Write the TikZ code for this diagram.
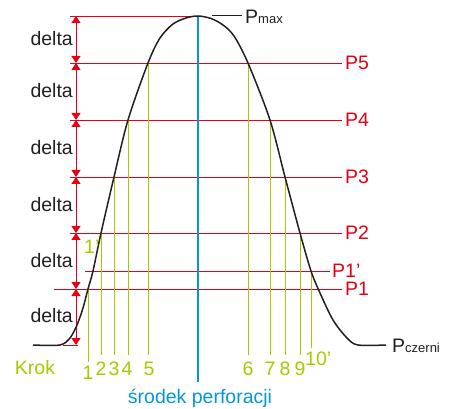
\documentclass[tikz,border=0pt]{standalone}
\usepackage{fontspec}
\setmainfont{Liberation Sans}
\usetikzlibrary{arrows.meta}
\definecolor{pred}{RGB}{230,0,18}
\definecolor{pgreen}{RGB}{170,200,0}
\definecolor{pblue}{RGB}{0,152,216}
\definecolor{pdark}{RGB}{35,31,32}
\begin{document}
\begin{tikzpicture}[x=1pt,y=-1pt,
  lbl/.style={font=\fontsize{19.5}{22}\selectfont, inner sep=0pt},
  redline/.style={draw=pred, line width=0.9pt},
  greenline/.style={draw=pgreen, line width=0.9pt},
  deltaarrow/.style={draw=pred, line width=0.9pt, {Triangle[width=9pt,length=7pt]}-{Triangle[width=9pt,length=7pt]}},
  curve/.style={draw=pdark, line width=1.5pt},
]
\useasboundingbox (0,0) rectangle (453,409);

% levels
\coordinate (L0) at (76,16);
\coordinate (L5) at (76,63);
\coordinate (L4) at (76,120);
\coordinate (L3) at (76,177);
\coordinate (L2) at (76,233);
\coordinate (L1) at (76,289);
\coordinate (Lb) at (76,345);

% red horizontal lines
\draw[redline] (70,16) -- (197,16);
\draw[redline] (70,63) -- (342,63);
\draw[redline] (70,120) -- (342,120);
\draw[redline] (70,177) -- (342,177);
\draw[redline] (70,233) -- (342,233);
\draw[redline] (85,271) -- (330,271);
\draw[redline] (54,289) -- (342,289);
\draw[redline] (63,345) -- (78,345);

% delta arrows
\draw[deltaarrow] (L0) -- (L5);
\draw[deltaarrow] (L5) -- (L4);
\draw[deltaarrow] (L4) -- (L3);
\draw[deltaarrow] (L3) -- (L2);
\draw[deltaarrow] (L2) -- (L1);
\draw[deltaarrow] (L1) -- (Lb);

% delta labels
\foreach \y/\n in {39/d1, 91/d2, 148/d3, 205/d4, 261/d5, 316/d6}
  \node[lbl, text=pdark, anchor=east] (\n) at (73,\y) {delta};

% intersection coordinates
\coordinate (c1) at (88,289);
\coordinate (c2) at (101,233);
\coordinate (c3) at (114,177);
\coordinate (c4) at (128,120);
\coordinate (c5) at (148,63);
\coordinate (c6) at (248,63);
\coordinate (c7) at (270,120);
\coordinate (c8) at (285,177);
\coordinate (c9) at (300,233);
\coordinate (c10) at (311,271);

% green vertical lines
\draw[greenline] (c1) -- (88,362);
\foreach \i/\x in {2/101,3/114,4/128,5/148,6/248,7/270,8/285,9/300}
  \draw[greenline] (c\i) -- (\x,355);
\draw[greenline] (c10) -- (311,348);

% blue centre line
\draw[draw=pblue, line width=2pt] (198,16) -- (198,382);

% curve
\draw[curve] plot[smooth, tension=0.5] coordinates {
  (33,345) (60,345) (70,338) (77,325) (83,308) (88,289) (93,271) (101,233)
  (114,177) (128,120) (148,63) (160,38) (173,24) (186,18) (198,16) (211,18.5) (223,25) (234,36)
  (248,63) (270,120) (285,177) (300,233) (311,271) (320,293) (333,320) (347,338) (358,345) (386,345)};
\draw[draw=pdark, line width=1pt] (212,16) -- (242,16);

% right labels
\node[lbl, text=pdark, anchor=base west] (pmax) at (245,24) {P{\fontsize{13}{15}\selectfont max}};
\node[lbl, text=pdark, anchor=base west] (pcz) at (392,352) {P{\fontsize{13}{15}\selectfont czerni}};
\node[lbl, text=pred, anchor=west] (p5) at (345,63) {P5};
\node[lbl, text=pred, anchor=west] (p4) at (345,120) {P4};
\node[lbl, text=pred, anchor=west] (p3) at (345,177) {P3};
\node[lbl, text=pred, anchor=west] (p2) at (345,233) {P2};
\node[lbl, text=pred, anchor=west] (p1p) at (332,271) {P1’};
\node[lbl, text=pred, anchor=west] (p1) at (345,289) {P1};

% green labels
\node[lbl, text=pgreen] (k) at (35,368) {Krok};
\node[lbl, text=pgreen, anchor=north] (n1) at (88,366) {1};
\node[lbl, text=pgreen, anchor=west] (n1p) at (84,247) {1’};
\foreach \i/\x in {2/101,3/114,4/127,5/149,6/248,7/270,8/285,9/300}
  \node[lbl, text=pgreen, anchor=base] (n\i) at (\x,375) {\i};
\node[lbl, text=pgreen, anchor=base west] (n10) at (305,365) {10’};

% blue label
\node[lbl, text=pblue, anchor=base] (sp) at (200,403) {środek perforacji};
\end{tikzpicture}
\end{document}
